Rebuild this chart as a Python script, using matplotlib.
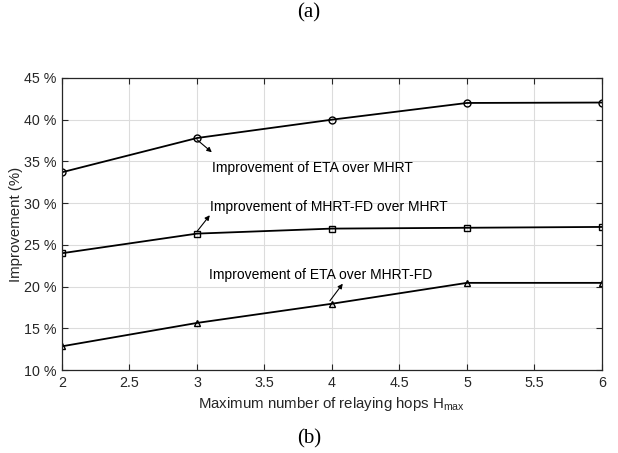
import matplotlib
matplotlib.use("Agg")
import matplotlib.pyplot as plt
from matplotlib.ticker import FuncFormatter, MultipleLocator

plt.rcParams['font.family'] = ['Liberation Sans', 'DejaVu Sans']
plt.rcParams['mathtext.fontset'] = 'custom'
plt.rcParams['mathtext.rm'] = 'Liberation Sans'
plt.rcParams['mathtext.it'] = 'Liberation Sans'

# Maximum number of relaying hops
hops = [2, 3, 4, 5, 6]
# Improvement percentages
eta_over_mhrt = [33.7, 37.8, 40.0, 42.0, 42.05]
mhrtfd_over_mhrt = [24.0, 26.35, 26.95, 27.05, 27.15]
eta_over_mhrtfd = [12.85, 15.65, 17.95, 20.45, 20.45]

fig = plt.figure(figsize=(6.18, 4.53), dpi=100)
ax = fig.add_axes([0.1003, 0.183, 0.8737, 0.645])

line_kw = dict(color='black', lw=1.3, markerfacecolor='none', markeredgewidth=1.0, markersize=5)
ax.plot(hops, eta_over_mhrt, marker='o', **line_kw)
ax.plot(hops, mhrtfd_over_mhrt, marker='s', **dict(line_kw, markersize=4.5))
ax.plot(hops, eta_over_mhrtfd, marker='^', **line_kw)

ax.set_xlim(2, 6)
ax.set_ylim(10, 45)
ax.xaxis.set_major_locator(MultipleLocator(0.5))
ax.yaxis.set_major_locator(MultipleLocator(5))
ax.xaxis.set_major_formatter(FuncFormatter(lambda v, p: f"{v:g}"))
ax.yaxis.set_major_formatter(FuncFormatter(lambda v, p: f"{v:.0f} %"))
ax.grid(True, color='#dcdcdc', lw=0.8)
ax.set_axisbelow(True)
ax.tick_params(direction='in', top=True, right=True, length=4, width=0.8,
               labelsize=10.3, colors='#262626', pad=4)
for s in ax.spines.values():
    s.set_color('#262626')
    s.set_linewidth(0.9)

ax.set_xlabel(r"Maximum number of relaying hops H$_{\mathrm{max}}$", fontsize=10.8, color='#262626', labelpad=4)
ax.set_ylabel("Improvement (%)", fontsize=10.8, color='#262626', labelpad=1)

arrow = dict(arrowstyle='-|>', color='black', lw=0.8, mutation_scale=7, shrinkA=0, shrinkB=0)
ax.annotate("", xy=(3.11, 36.1), xytext=(3.0, 37.6), arrowprops=arrow)
ax.text(3.11, 34.2, "Improvement of ETA over MHRT", fontsize=10, va='center', ha='left')
ax.annotate("", xy=(3.095, 28.55), xytext=(3.0, 26.6), arrowprops=arrow)
ax.text(3.1, 29.5, "Improvement of MHRT-FD over MHRT", fontsize=10, va='center', ha='left')
ax.annotate("", xy=(4.08, 20.35), xytext=(3.985, 18.3), arrowprops=arrow)
ax.text(3.09, 21.45, "Improvement of ETA over MHRT-FD", fontsize=10, va='center', ha='left')

fig.text(0.5, 0.972, "(a)", fontsize=15, family='Liberation Serif', ha='center', va='center')
fig.text(0.5, 0.032, "(b)", fontsize=15, family='Liberation Serif', ha='center', va='center')

fig.savefig("out.png", dpi=100)
